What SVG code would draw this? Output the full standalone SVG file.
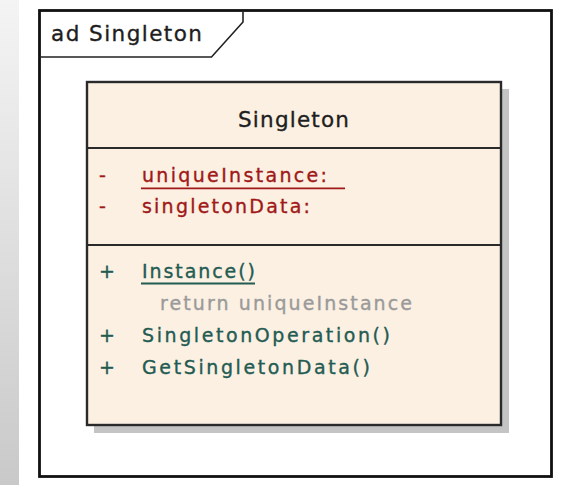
<svg xmlns="http://www.w3.org/2000/svg" width="588" height="485" viewBox="0 0 588 485">
  <defs>
    <linearGradient id="sideStrip" x1="0" y1="0" x2="0" y2="1">
      <stop offset="0" stop-color="#f4f4f4"/>
      <stop offset="1" stop-color="#c9c9c9"/>
    </linearGradient>
    <style>
      .frame { fill: #ffffff; stroke: #111111; stroke-width: 2.8; }
      .tab { fill: none; stroke: #222222; stroke-width: 1.6; }
      .box { fill: #fbf0e2; stroke: #2a2a2a; stroke-width: 2.4; }
      .shadow { fill: #c4c4c4; }
      .divider { stroke: #2a2a2a; stroke-width: 2; }
      text { font-family: "DejaVu Sans", "Liberation Sans", Arial, sans-serif; stroke-width: 0.35; }
      .label { font-size: 21.5px; fill: #1e1e1e; stroke: #1e1e1e; }
      .attr { font-size: 19px; fill: #a01818; stroke: #a01818; }
      .op { font-size: 19px; fill: #235b52; stroke: #235b52; }
      .note { font-size: 19px; fill: #9a9a9a; stroke: #9a9a9a; }
      .ul-attr { stroke: #a01818; stroke-width: 1.8; }
      .ul-op { stroke: #235b52; stroke-width: 1.8; }
    </style>
  </defs>

  <!-- page background and side strip -->
  <rect x="0" y="0" width="588" height="485" fill="#ffffff"/>
  <rect x="0" y="0" width="19" height="485" fill="url(#sideStrip)"/>

  <!-- activity diagram frame -->
  <g id="frame">
    <rect class="frame" x="39.5" y="10.5" width="512" height="466"/>
    <path class="tab" d="M39.5,57 H211.5 L243,22 V10.5"/>
    <text class="label" x="51" y="41" textLength="151" lengthAdjust="spacing">ad Singleton</text>
  </g>

  <!-- Singleton class -->
  <g id="singleton">
    <rect class="shadow" x="94" y="89" width="415" height="344"/>
    <rect class="box" x="87" y="82" width="414" height="343"/>
    <line class="divider" x1="87" y1="148" x2="501" y2="148"/>
    <line class="divider" x1="87" y1="245" x2="501" y2="245"/>

    <text class="label" x="238" y="127" textLength="111" lengthAdjust="spacing">Singleton</text>

    <!-- attributes -->
    <text class="attr" x="99" y="182">-</text>
    <text class="attr" x="142" y="182" textLength="185" lengthAdjust="spacing">uniqueInstance:</text>
    <line class="ul-attr" x1="141" y1="188.3" x2="345" y2="188.3"/>
    <text class="attr" x="99" y="213">-</text>
    <text class="attr" x="142" y="213" textLength="168" lengthAdjust="spacing">singletonData:</text>

    <!-- operations -->
    <text class="op" x="99" y="278">+</text>
    <text class="op" x="142" y="278" textLength="113" lengthAdjust="spacing">Instance()</text>
    <line class="ul-op" x1="141" y1="283.5" x2="255" y2="283.5"/>
    <text class="note" x="160" y="310" textLength="252" lengthAdjust="spacing">return uniqueInstance</text>
    <text class="op" x="99" y="342">+</text>
    <text class="op" x="142" y="342" textLength="248" lengthAdjust="spacing">SingletonOperation()</text>
    <text class="op" x="99" y="374">+</text>
    <text class="op" x="142" y="374" textLength="228" lengthAdjust="spacing">GetSingletonData()</text>
  </g>

  <g id="connectors"/>
</svg>
